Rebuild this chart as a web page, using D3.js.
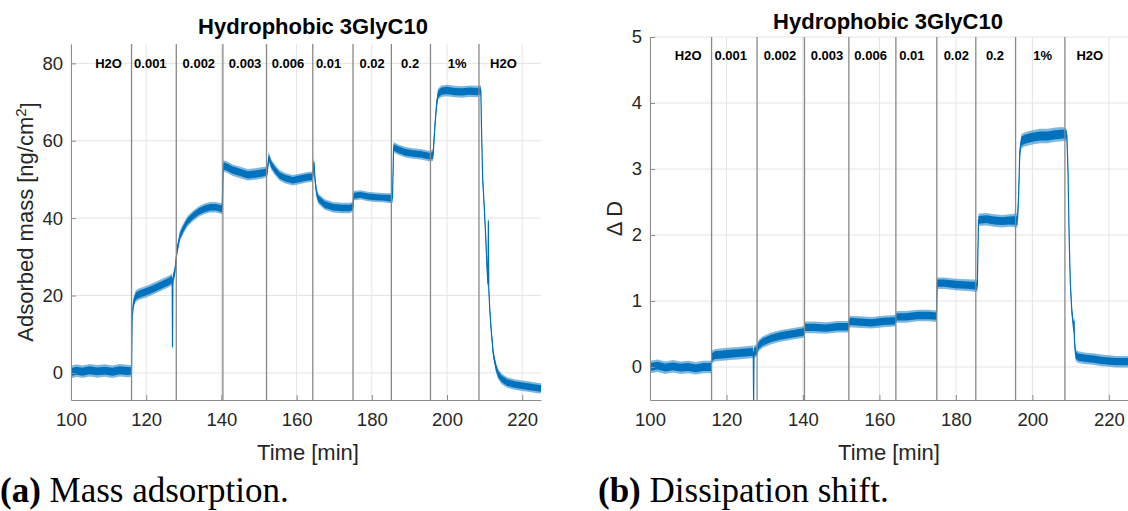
<!DOCTYPE html>
<html>
<head>
<meta charset="utf-8">
<script src="https://cdn.jsdelivr.net/npm/d3@7"></script>
<style>
  body { margin: 0; background: #fff; }
  svg { display: block; }
</style>
</head>
<body>
<svg id="fig" width="1128" height="511"></svg>
<script>
// solution changes (min) and the labels written between them
const switchTimes = [116.1, 128.0, 140.4, 152.0, 164.3, 175.0, 185.2, 195.6, 208.5];
const phaseLabels = ['H2O', '0.001', '0.002', '0.003', '0.006', '0.01', '0.02', '0.2', '1%', 'H2O'];
const labelTimes = [110, 121.1, 134, 146.3, 157.7, 168.5, 180.1, 190.2, 202.7, 215];

const xTicks = [100, 120, 140, 160, 180, 200, 220];
const massTicks = [0, 20, 40, 60, 80];
const dissTicks = [0, 1, 2, 3, 4, 5];

// adsorbed mass [ng/cm2] vs time [min]
const massData = [
  [100, 0.2], [101.5, 0.6], [103, 0.3], [105, 0.7], [107, 0.4], [109, 0.6], [111, 0.3], [113, 0.7], [115, 0.5], [116.1, 0.5],
  [116.25, 14], [116.6, 18], [117.2, 19.8], [118, 20.3], [120, 21], [122, 21.8], [124, 22.7], [126, 23.6], [126.9, 24.2],
  [127.0, 6.6], [127.1, 24.3], [127.6, 26], [128.2, 31.6], [129, 35.5], [130, 37.5], [131, 39.2], [132.5, 40.6], [134, 41.7],
  [135.5, 42.4], [137, 42.8], [138.5, 42.8], [140.2, 42.4],
  [140.5, 53.5], [141.5, 53.2], [143, 52.4], [145, 51.8], [147, 51.2], [149, 51.4], [151, 51.7], [152.2, 52],
  [152.6, 55.8], [153.2, 54], [154.2, 52.5], [155.5, 51], [157, 50.3], [159, 49.8], [161, 50.2], [163, 50.6], [164.3, 50.7],
  [164.6, 54.4], [164.9, 50], [165.3, 46.5], [165.8, 45], [167.5, 43.5], [169.7, 42.8], [172, 42.6], [174.2, 42.6], [175, 43],
  [175.2, 45.8], [177, 46], [179, 45.6], [181, 45.4], [183, 45.3], [185.5, 45.1],
  [185.8, 58.3], [187, 57.7], [189, 57], [191, 56.7], [193, 56.5], [195.5, 56], [196.3, 56.3],
  [196.8, 64], [197.2, 69], [197.6, 72], [198.5, 72.8], [200, 73], [202, 72.7], [204, 72.6], [206, 72.8], [208, 72.7], [209, 73],
  [209.2, 62], [209.5, 50], [209.9, 43], [210.3, 35], [210.7, 26], [210.9, 23], [211.0, 39.4], [211.1, 22], [211.4, 16],
  [211.8, 10.5], [212.3, 5], [213, 1.5], [213.6, -0.3], [214.5, -1.5], [216, -2.5], [218, -3], [220, -3.3], [222, -3.6],
  [224, -3.9], [225, -4]
];
// half width of the noise band in each solution phase
const massNoise = [1.2, 1.1, 1.0, 1.1, 1.0, 1.0, 0.9, 1.0, 1.1, 1.0];

// dissipation shift vs time [min]
const dissData = [
  [100, 0.0], [102, 0.02], [104, -0.01], [106, 0.01], [108, -0.01], [110, 0.0], [112, -0.02], [114, 0.0], [116.0, 0.0],
  [116.2, 0.15], [117, 0.18], [119, 0.19], [121, 0.2], [123, 0.21], [125, 0.22], [127.0, 0.23], [127.1, -0.6], [127.2, 0.23],
  [127.9, 0.25], [128.5, 0.33], [129.5, 0.38], [131.5, 0.43], [134, 0.47], [137, 0.5], [140.2, 0.53],
  [140.6, 0.6], [143, 0.6], [146, 0.59], [149, 0.61], [151.8, 0.61],
  [152.3, 0.69], [155, 0.68], [158, 0.67], [161, 0.69], [164.1, 0.7],
  [164.5, 0.76], [167, 0.76], [170, 0.78], [173, 0.78], [174.9, 0.77],
  [175.1, 1.27], [177, 1.27], [180, 1.25], [183, 1.24], [185.6, 1.23],
  [185.9, 2.23], [188, 2.24], [190, 2.22], [192, 2.21], [194, 2.22], [196.1, 2.22],
  [196.4, 2.6], [196.7, 3.25], [197.1, 3.42], [198, 3.45], [200, 3.48], [202, 3.5], [204, 3.5], [206, 3.52], [208, 3.53], [209.0, 3.52],
  [209.3, 3.0], [209.6, 2.0], [209.9, 1.3], [210.3, 0.85], [210.6, 0.7], [210.8, 0.55], [210.9, 0.7], [211.0, 0.4], [211.3, 0.18],
  [212, 0.15], [214, 0.13], [216, 0.12], [218, 0.1], [220, 0.09], [222, 0.08], [225, 0.08]
];
const dissNoise = [0.07, 0.07, 0.065, 0.065, 0.065, 0.065, 0.065, 0.07, 0.08, 0.065];

const sans = "'Liberation Sans', Arial, sans-serif";
const serif = "'Liberation Serif', 'Times New Roman', serif";
const blue = '#0072BD';

let svg = d3.select('#fig');

function panel(o) {
    let g = svg.append('g');
    let x = d3.scaleLinear().domain([100, 225]).range([o.left, o.right]),
        y = d3.scaleLinear().domain(o.yDomain).range([o.bottom, o.top]);

    // grid
    g.append('g').selectAll('line').data(xTicks).join('line')
        .attr('x1', d => x(d)).attr('x2', d => x(d))
        .attr('y1', o.top).attr('y2', o.bottom)
        .attr('stroke', '#e4e4e4');
    g.append('g').selectAll('line').data(o.yTicks).join('line')
        .attr('x1', o.left).attr('x2', o.right)
        .attr('y1', d => y(d)).attr('y2', d => y(d))
        .attr('stroke', '#e4e4e4');

    g.append('clipPath').attr('id', o.id + '-clip')
        .append('rect')
        .attr('x', o.left).attr('y', o.top)
        .attr('width', o.right - o.left).attr('height', o.bottom - o.top);

    let phase = t => d3.bisectRight(switchTimes, t);
    let band = k => d3.area()
        .x(d => x(d[0]))
        .y0(d => y(d[1] - k * o.noise[phase(d[0])]))
        .y1(d => y(d[1] + k * o.noise[phase(d[0])]));
    let line = d3.line()
        .x(d => x(d[0]))
        .y(d => y(d[1]));

    let plot = g.append('g').attr('clip-path', `url(#${o.id}-clip)`);
    // outer fringe of the noise, then the dense core
    plot.append('path')
        .attr('d', band(1.35)(o.data))
        .attr('fill', blue)
        .attr('fill-opacity', 0.5);
    plot.append('path')
        .attr('d', band(0.85)(o.data))
        .attr('fill', blue);
    plot.append('path')
        .attr('d', line(o.data))
        .attr('fill', 'none')
        .attr('stroke', blue)
        .attr('stroke-width', 1.2);

    // solution change markers
    g.append('g').selectAll('line').data(switchTimes).join('line')
        .attr('x1', d => x(d)).attr('x2', d => x(d))
        .attr('y1', o.top).attr('y2', o.bottom)
        .attr('stroke', '#888')
        .attr('stroke-width', 1.3);

    g.append('g').selectAll('text').data(phaseLabels).join('text')
        .attr('x', (d, i) => x(labelTimes[i]))
        .attr('y', y(o.labelLevel))
        .attr('dy', '0.35em')
        .attr('text-anchor', 'middle')
        .style('font', `bold 13px ${sans}`)
        .attr('fill', '#000')
        .text(d => d);

    // axes
    let xAxis = g.append('g')
        .attr('transform', `translate(0,${o.bottom})`)
        .call(d3.axisBottom(x).tickValues(xTicks).tickFormat(d3.format('d'))
            .tickSizeInner(-5).tickSizeOuter(0).tickPadding(13));
    let yAxis = g.append('g')
        .attr('transform', `translate(${o.left},0)`)
        .call(d3.axisLeft(y).tickValues(o.yTicks).tickFormat(d3.format('d'))
            .tickSizeInner(-5).tickSizeOuter(0).tickPadding(8));
    [xAxis, yAxis].forEach(a => {
        a.select('.domain').attr('stroke', '#8c8c8c');
        a.selectAll('.tick line').attr('stroke', '#8c8c8c');
        a.selectAll('.tick text').style('font', `18.5px ${sans}`).attr('fill', '#262626');
    });

    g.append('text')
        .attr('x', o.titleX).attr('y', o.titleY)
        .attr('text-anchor', 'middle')
        .style('font', `bold 22px ${sans}`)
        .attr('fill', '#000')
        .text('Hydrophobic 3GlyC10');

    g.append('text')
        .attr('x', (o.left + o.right) / 2 + o.xLabelShift).attr('y', 460)
        .attr('text-anchor', 'middle')
        .style('font', `22px ${sans}`)
        .attr('fill', '#262626')
        .text('Time [min]');

    let yl = g.append('text')
        .attr('transform', `translate(${o.yLabelX},${(o.top + o.bottom) / 2}) rotate(-90)`)
        .attr('text-anchor', 'middle')
        .style('font', `22px ${sans}`)
        .attr('fill', '#262626');
    o.yLabel(yl);

    let cap = g.append('text')
        .attr('x', o.captionX).attr('y', 502)
        .style('font', `35px ${serif}`)
        .attr('fill', '#000');
    cap.append('tspan').style('font-weight', 'bold').text(o.captionTag);
    cap.append('tspan').text(' ' + o.caption);
}

panel({
    id: 'mass', left: 71, right: 541, top: 44, bottom: 400,
    yDomain: [-7, 85], yTicks: massTicks, data: massData, noise: massNoise,
    labelLevel: 80, titleX: 313, titleY: 34, xLabelShift: 2, yLabelX: 33,
    yLabel: t => {
        t.append('tspan').text('Adsorbed mass [ng/cm');
        t.append('tspan').attr('dy', '-0.45em').style('font-size', '15px').text('2');
        t.append('tspan').attr('dy', '0.45em').text(']');
    },
    captionX: 0, captionTag: '(a)', caption: 'Mass adsorption.'
});

panel({
    id: 'diss', left: 650, right: 1128, top: 37, bottom: 400,
    yDomain: [-0.5, 5], yTicks: dissTicks, data: dissData, noise: dissNoise,
    labelLevel: 4.72, titleX: 888, titleY: 29, xLabelShift: 0, yLabelX: 622,
    yLabel: t => t.text('\u0394 D'),
    captionX: 598, captionTag: '(b)', caption: 'Dissipation shift.'
});
</script>
</body>
</html>
